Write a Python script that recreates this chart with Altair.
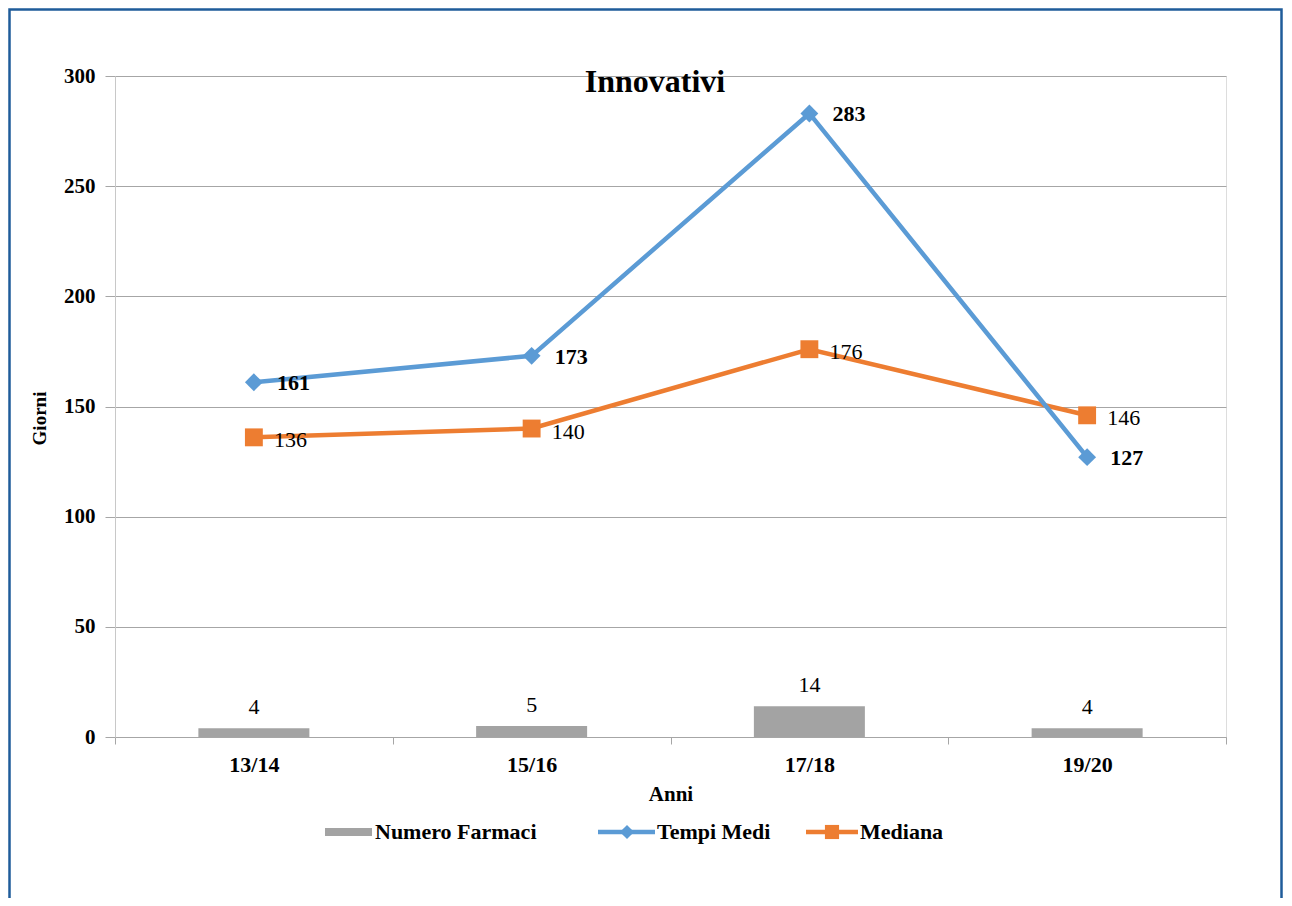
import altair as alt
import pandas as pd

# ---- data ----
ANNI = ["13/14", "15/16", "17/18", "19/20"]
NUMERO_FARMACI = [4, 5, 14, 4]
TEMPI_MEDI = [161, 173, 283, 127]
MEDIANA = [136, 140, 176, 146]
SERIE = ["Numero Farmaci", "Tempi Medi", "Mediana"]
TITOLO = "Innovativi"
Y_TICKS = [0, 50, 100, 150, 200, 250, 300]

# ---- style ----
FONT = "Liberation Serif"
W, H = 1111, 661
PAD = {"left": 107, "top": 68, "right": 58, "bottom": 161}
GRAY = "#a3a3a3"
BLUE = "#5b9bd5"
ORANGE = "#ed7d31"
GRID = "#a6a6a6"
BORDER = "#1f5c9a"

df = pd.DataFrame({
    "Anno": ANNI,
    "Numero Farmaci": NUMERO_FARMACI,
    "Tempi Medi": TEMPI_MEDI,
    "Mediana": MEDIANA,
})

x_axis = alt.Axis(
    labelFont=FONT, labelFontSize=22, labelFontWeight="bold", labelColor="black",
    labelAngle=0, labelPadding=10, tickSize=7, tickColor=GRID, tickBand="extent",
    domainColor=GRID, grid=False,
    title="Anni", titleFont=FONT, titleFontSize=21, titleFontWeight="bold",
    titleColor="black", titleX=W / 2, titleY=63, titleAlign="center",
    titleBaseline="alphabetic",
)
y_axis = alt.Axis(
    values=Y_TICKS, labelFont=FONT, labelFontSize=21, labelFontWeight="bold",
    labelColor="black", labelPadding=10, tickSize=10, tickColor=GRID,
    domainColor="#c8c8c8", grid=True, gridColor=GRID, gridWidth=1,
    title="Giorni", titleFont=FONT, titleFontSize=19, titleFontWeight="bold",
    titleColor="black", titleX=-70, titleY=342, titleAngle=270,
    titleAlign="center", titleBaseline="alphabetic",
)

X = alt.X("Anno:N", sort=ANNI, scale=alt.Scale(paddingInner=0, paddingOuter=0), axis=x_axis)
yscale = alt.Scale(domain=[0, 300], nice=False)


def Y(field):
    return alt.Y(f"{field}:Q", scale=yscale, axis=y_axis)


base = alt.Chart(df)

bars = base.mark_bar(size=111, color=GRAY).encode(x=X, y=Y("Numero Farmaci"))
bar_lbl = base.mark_text(font=FONT, fontSize=22, color="black", baseline="alphabetic", dy=-14).encode(
    x=X, y=Y("Numero Farmaci"), text="Numero Farmaci:Q")

med_line = base.mark_line(color=ORANGE, strokeWidth=4.5).encode(x=X, y=Y("Mediana"))
med_pts = base.mark_point(shape="square", filled=True, size=320, color=ORANGE, opacity=1).encode(
    x=X, y=Y("Mediana"))
med_lbl = base.mark_text(font=FONT, fontSize=22, color="black", align="left", baseline="middle",
                         dx=20, dy=3).encode(x=X, y=Y("Mediana"), text="Mediana:Q")

tm_line = base.mark_line(color=BLUE, strokeWidth=4.5).encode(x=X, y=Y("Tempi Medi"))
tm_pts = base.mark_point(shape="diamond", filled=True, size=320, color=BLUE, opacity=1).encode(
    x=X, y=Y("Tempi Medi"))
tm_lbl = base.mark_text(font=FONT, fontSize=22, fontWeight="bold", color="black", align="left",
                        baseline="middle", dx=23, dy=1).encode(x=X, y=Y("Tempi Medi"), text="Tempi Medi:Q")

one = pd.DataFrame({"t": [TITOLO]})
title = alt.Chart(one).mark_text(font=FONT, fontSize=32, fontWeight="bold", color="black",
                                 align="center", baseline="alphabetic").encode(
    x=alt.value(540), y=alt.value(16), text="t:N")

# ---- legend (drawn as marks) ----
leg = pd.DataFrame({"s": SERIE})
LEG_Y = 756
leg_rect = alt.Chart(leg.iloc[[0]]).mark_rect(color=GRAY).encode(
    x=alt.value(210), x2=alt.value(257), y=alt.value(LEG_Y - 4), y2=alt.value(LEG_Y + 4))
leg_blue = alt.Chart(leg.iloc[[1]]).mark_rule(color=BLUE, strokeWidth=4.5).encode(
    x=alt.value(483), x2=alt.value(540), y=alt.value(LEG_Y))
leg_blue_pt = alt.Chart(leg.iloc[[1]]).mark_point(shape="diamond", filled=True, size=200,
                                                   color=BLUE, opacity=1).encode(
    x=alt.value(512), y=alt.value(LEG_Y))
leg_or = alt.Chart(leg.iloc[[2]]).mark_rule(color=ORANGE, strokeWidth=4.5).encode(
    x=alt.value(691), x2=alt.value(743), y=alt.value(LEG_Y))
leg_or_pt = alt.Chart(leg.iloc[[2]]).mark_point(shape="square", filled=True, size=200,
                                                 color=ORANGE, opacity=1).encode(
    x=alt.value(717), y=alt.value(LEG_Y))


def leg_text(i, xpos):
    return alt.Chart(leg.iloc[[i]]).mark_text(font=FONT, fontSize=22, fontWeight="bold",
                                              color="black", align="left",
                                              baseline="middle").encode(
        x=alt.value(xpos), y=alt.value(LEG_Y), text="s:N")


border = alt.Chart(one).mark_rect(fill=None, stroke=BORDER, strokeWidth=2.5, filled=False).encode(
    x=alt.value(-105.5), x2=alt.value(W + PAD["right"] - 2.5),
    y=alt.value(-66.5), y2=alt.value(H + 400))

chart = alt.layer(
    bars, bar_lbl, med_line, tm_line, med_pts, tm_pts, med_lbl, tm_lbl, title,
    leg_rect, leg_blue, leg_blue_pt, leg_or, leg_or_pt,
    leg_text(0, 260), leg_text(1, 542), leg_text(2, 745), border,
).properties(
    width=W, height=H, padding=PAD, autosize=alt.AutoSizeParams(type="none"),
).configure_view(stroke=None).configure(background="white")

chart.save("out.html", embed_options={"renderer": "svg", "actions": False})
